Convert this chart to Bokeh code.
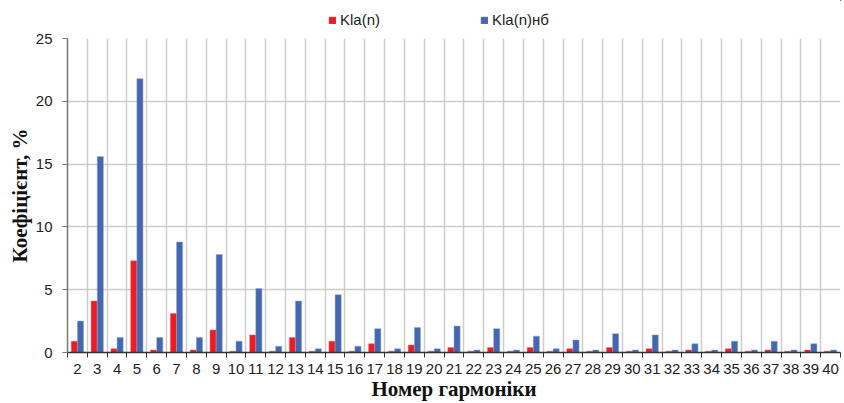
from bokeh.plotting import figure
from bokeh.models import ColumnDataSource, FixedTicker, Legend, LegendItem
from bokeh.layouts import column
from bokeh.transform import dodge
from bokeh.embed import file_html
from bokeh.resources import INLINE

harmonics = list(range(2, 41))
kla_n = [0.9, 4.1, 0.3, 7.3, 0.2, 3.1, 0.2, 1.8, 0.1, 1.4, 0.1, 1.2, 0.1, 0.9, 0.1, 0.7,
         0.1, 0.6, 0.1, 0.4, 0.1, 0.4, 0.1, 0.4, 0.1, 0.3, 0.1, 0.4, 0.1, 0.3, 0.1, 0.2,
         0.1, 0.3, 0.1, 0.2, 0.1, 0.2, 0.1]
kla_nb = [2.5, 15.6, 1.2, 21.8, 1.2, 8.8, 1.2, 7.8, 0.9, 5.1, 0.5, 4.1, 0.3, 4.6, 0.5, 1.9,
          0.3, 2.0, 0.3, 2.1, 0.2, 1.9, 0.2, 1.3, 0.3, 1.0, 0.2, 1.5, 0.2, 1.4, 0.2, 0.7,
          0.2, 0.9, 0.2, 0.9, 0.2, 0.7, 0.2]
y_ticks = [0, 5, 10, 15, 20, 25]
series_names = ["Kla(n)", "Kla(n)нб"]
red, blue = "#ED1C24", "#4467B0"

src = ColumnDataSource(dict(x=harmonics, a=kla_n, b=kla_nb))

# ---- legend strip: a small figure whose view range shows none of the bars ----
lg = figure(width=844, height=28, output_backend="svg", toolbar_location=None,
            x_axis_type=None, y_axis_type=None, x_range=(-1, 0), y_range=(-1, 0))
lg.min_border_left = lg.min_border_right = lg.min_border_top = lg.min_border_bottom = 0
lg.outline_line_color = None
lg.xgrid.visible = False
lg.ygrid.visible = False
e1 = lg.vbar(x="x", top="a", width=0.31, source=src, fill_color=red, line_color=red)
e2 = lg.vbar(x="x", top="b", width=0.31, source=src, fill_color=blue, line_color=blue)
legend = Legend(items=[LegendItem(label=series_names[0], renderers=[e1]),
                       LegendItem(label=series_names[1], renderers=[e2])],
                orientation="horizontal", location=(261, 0))
legend.border_line_color = None
legend.background_fill_alpha = 0
legend.label_text_font = "Liberation Sans"
legend.label_text_font_size = "15px"
legend.label_text_color = "#222222"
legend.glyph_width = 8
legend.glyph_height = 8
legend.label_standoff = 4
legend.spacing = 100
legend.padding = 1
legend.margin = 0
lg.add_layout(legend, "center")

# ---- main chart ----
p = figure(width=844, height=375, output_backend="svg", toolbar_location=None,
           x_range=(1.5, 40.5), y_range=(0, 25))
p.min_border_left = 67
p.min_border_right = 4
p.min_border_top = 10
p.min_border_bottom = 50
p.outline_line_color = None

p.vbar(x=dodge("x", -0.155, range=p.x_range), top="a", width=0.31, source=src,
       fill_color=red, line_color="#F26B6B", line_width=0.5)
p.vbar(x=dodge("x", 0.155, range=p.x_range), top="b", width=0.31, source=src,
       fill_color=blue, line_color="#8FA6D6", line_width=0.5)

centers = harmonics
bounds = [h - 0.5 for h in harmonics] + [harmonics[-1] + 0.5]
p.xaxis.ticker = FixedTicker(ticks=centers, minor_ticks=bounds)
p.xgrid.ticker = FixedTicker(ticks=bounds)
p.yaxis.ticker = FixedTicker(ticks=y_ticks)

p.xgrid.grid_line_color = "#cccccc"
p.xgrid.grid_line_width = 1.5
p.ygrid.grid_line_color = "#cccccc"
p.ygrid.grid_line_width = 1.5

p.xaxis.major_tick_line_color = None
p.xaxis.major_tick_out = 0
p.xaxis.major_tick_in = 0
p.xaxis.minor_tick_line_color = "#333333"
p.xaxis.minor_tick_out = 5
p.xaxis.minor_tick_in = 0
p.xaxis.axis_line_color = "#333333"
p.xaxis.axis_line_width = 1.5
p.yaxis.axis_line_color = "#777777"
p.yaxis.axis_line_width = 1.5
p.yaxis.major_tick_line_color = "#777777"
p.yaxis.major_tick_out = 5
p.yaxis.major_tick_in = 0
p.yaxis.minor_tick_line_color = None

for ax in (p.xaxis, p.yaxis):
    ax.major_label_text_font = "Liberation Sans"
    ax.major_label_text_font_size = "15px"
    ax.major_label_text_color = "#222222"
    ax.axis_label_text_font = "Liberation Serif"
    ax.axis_label_text_font_style = "bold"
    ax.axis_label_text_font_size = "21px"
    ax.axis_label_text_color = "#111111"

p.xaxis.axis_label = "Номер гармоніки"
p.yaxis.axis_label = "Коефіцієнт, %"
p.xaxis.major_label_standoff = 6
p.xaxis.axis_label_standoff = 0
p.yaxis.major_label_standoff = 10
p.yaxis.axis_label_standoff = 1

layout = column(lg, p, spacing=0)
open("out.html", "w").write(file_html(layout, INLINE))
